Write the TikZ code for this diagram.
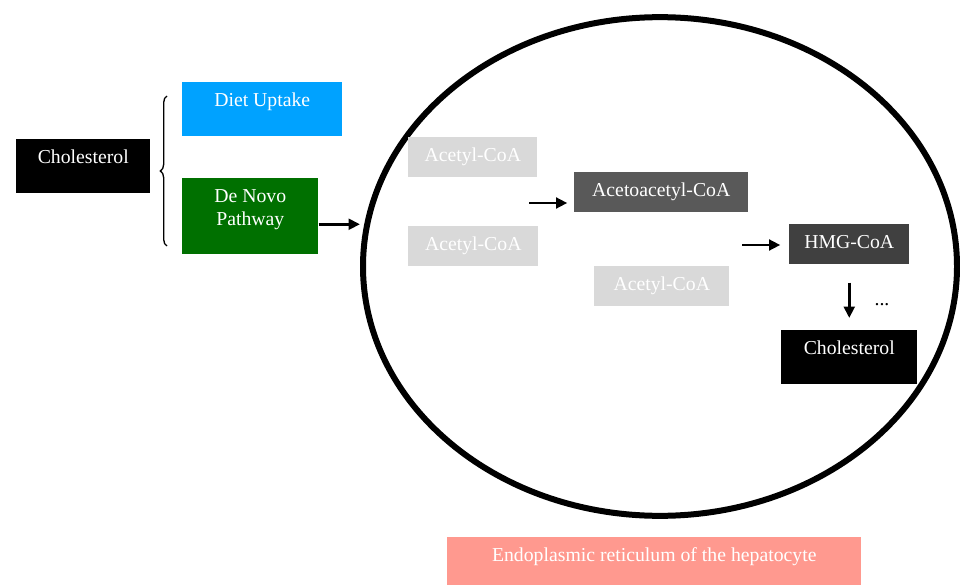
\documentclass[tikz,border=0pt]{standalone}
\usepackage{fontspec}
\setmainfont{Liberation Serif}
\usepackage{xcolor}
\usepackage{tikz}
\usetikzlibrary{positioning,arrows.meta,decorations.pathreplacing,shapes.geometric}
\definecolor{dietblue}{RGB}{0,162,255}
\definecolor{novogreen}{RGB}{0,112,0}
\definecolor{acgray}{RGB}{217,217,217}
\definecolor{acacgray}{RGB}{89,89,89}
\definecolor{hmggray}{RGB}{64,64,64}
\definecolor{ersalmon}{RGB}{255,153,143}

\tikzset{
  pbox/.style={anchor=north west, inner sep=0pt, text=white, text height=18.4pt,
    font=\rmfamily\fontsize{14.8}{17.25}\selectfont},
  arr/.style={line width=2.1pt, -{Triangle[length=8.5pt,width=8pt]}}
}

\begin{document}
\begin{tikzpicture}[x=0.75pt,y=-0.75pt]
      \useasboundingbox (0,0) rectangle (960,585);
      % left side
      \node[pbox, fill=black, minimum width=100.5pt, minimum height=40.5pt, text depth=22.1pt] (cholL) at (16,139) {Cholesterol};
      \node[pbox, fill=dietblue, minimum width=120pt, minimum height=40.5pt, text depth=22.1pt] (diet) at (182,82) {Diet Uptake};
      \node[pbox, fill=novogreen, minimum width=102pt, minimum height=57pt, text depth=38.6pt] (denovo) at (182,178)
        {\begin{tabular}[t]{@{}c@{}}De Novo\\Pathway\end{tabular}};
      \draw[line width=1pt, decorate, decoration={brace, amplitude=5pt}] (167,246) -- (167,96);
      % the ER
      \node[draw, ellipse, line width=4.5pt, inner sep=0pt, minimum width=445.5pt, minimum height=374pt] (er) at (660,266.5) {};
      \draw[arr] ([yshift=-6pt]denovo.east) -- ([yshift=-6pt]denovo.east -| er.west);
      \foreach \n/\x/\y/\w in {ac1/408/137/96.75pt,ac2/408/226/97.5pt,ac3/594/266/101.25pt}
        \node[pbox, fill=acgray, minimum width=\w, minimum height=30pt, text depth=11.6pt] (\n) at (\x,\y) {Acetyl-CoA};
      \node[pbox, fill=acacgray, minimum width=130.5pt, minimum height=30pt, text depth=11.6pt] (acac) at (574,172) {Acetoacetyl-CoA};
      \node[pbox, fill=hmggray, minimum width=90pt, minimum height=30pt, text depth=11.6pt] (hmg) at (789,224) {HMG-CoA};
      \node[pbox, fill=black, minimum width=102pt, minimum height=40.5pt, text depth=22.1pt] (cholR) at (781,330) {Cholesterol};
      \coordinate (m1) at (529,203);
      \coordinate (m2) at (742,245);
      \draw[arr, shorten >=5pt] (m1) -- (m1 -| acac.west);
      \draw[arr, shorten >=6.5pt] (m2) -- (m2 -| hmg.west);
      \draw[arr, shorten <=13.5pt, shorten >=9pt] (hmg.south) -- (cholR.north);
      \node[anchor=base, inner sep=0pt, font=\rmfamily\fontsize{14.8}{17.25}\selectfont] (dots) at (882,305.5) {...};
      \node[pbox, fill=ersalmon, minimum width=310.5pt, minimum height=36pt, text depth=17.6pt] (erlab) at (447,537)
        {Endoplasmic reticulum of the hepatocyte};
    \end{tikzpicture}
\end{document}
